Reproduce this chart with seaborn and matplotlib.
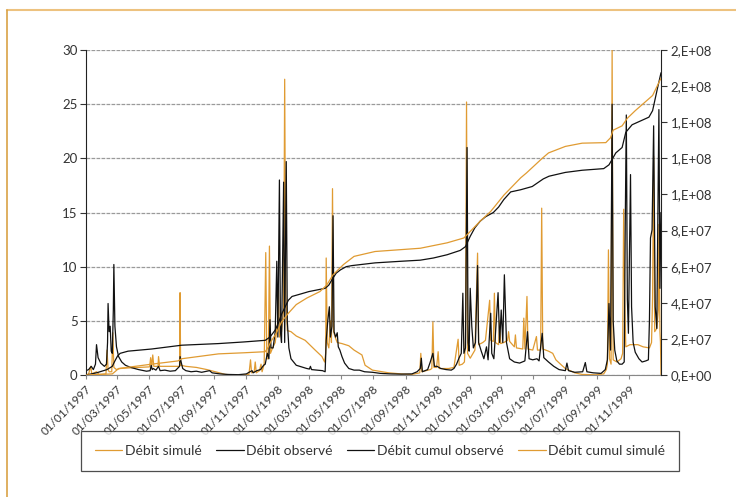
import numpy as np
import pandas as pd
import seaborn as sns
import matplotlib.pyplot as plt
import matplotlib.dates as mdates
from matplotlib.lines import Line2D
from matplotlib.ticker import FuncFormatter

sns.set_style('white')
plt.rcParams['font.family'] = ['Lato', 'DejaVu Sans']

start = pd.Timestamp('1997-01-01')

# débit observé (m3/s), jours comptés depuis le 01/01/1997
obs_day = [0, 5, 10, 14, 18, 20, 23, 28, 35, 39,
           41, 42, 44, 46, 48, 50, 52, 53, 55, 58,
           62, 68, 75, 85, 100, 115, 122, 124, 126, 128,
           133, 138, 141, 150, 160, 170, 178, 179, 181, 184,
           190, 200, 210, 220, 235, 240, 255, 270, 290, 305,
           312, 316, 318, 325, 332, 338, 341, 345, 348, 350,
           352, 356, 360, 363, 365, 368, 370, 372, 376, 378,
           381, 383, 386, 390, 395, 400, 410, 420, 425, 427,
           429, 440, 450, 455, 457, 460, 463, 465, 468, 470,
           472, 475, 478, 480, 483, 487, 492, 500, 510, 520,
           530, 545, 560, 580, 600, 620, 630, 636, 638, 640,
           645, 650, 655, 660, 663, 668, 675, 685, 695, 700,
           705, 710, 714, 717, 719, 722, 725, 727, 729, 731,
           734, 737, 741, 745, 747, 752, 757, 762, 765, 770,
           772, 776, 784, 787, 790, 793, 796, 800, 806, 815,
           825, 835, 840, 843, 850, 858, 862, 868, 871, 880,
           890, 900, 912, 915, 918, 930, 945, 950, 953, 965,
           980, 988, 992, 995, 998, 1001, 1003, 1006, 1010, 1015,
           1020, 1024, 1026, 1028, 1030, 1032, 1036, 1038, 1041, 1045,
           1052, 1058, 1065, 1070, 1072, 1074, 1077, 1080, 1083, 1086,
           1090, 1092, 1094]
obs_q = [0.4, 0.5, 0.8, 0.5, 1.0, 2.8, 1.6, 1.1, 0.8, 1.0,
         3.0, 6.6, 4.0, 4.5, 2.2, 2.0, 6.0, 10.2, 4.5, 2.6,
         1.7, 1.2, 0.9, 0.7, 0.5, 0.35, 0.4, 0.9, 0.5, 0.6,
         0.45, 0.8, 0.4, 0.45, 0.35, 0.4, 0.8, 1.7, 1.2, 0.6,
         0.4, 0.3, 0.35, 0.25, 0.4, 0.2, 0.1, 0.05, 0.03, 0.1,
         0.3, 0.4, 0.2, 0.4, 0.5, 0.9, 1.0, 2.0, 1.5, 5.1,
         2.5, 2.5, 4.0, 10.5, 3.5, 18.0, 4.0, 3.0, 17.8, 3.0,
         19.7, 5.0, 2.5, 1.5, 1.2, 0.9, 0.75, 0.6, 0.55, 0.8,
         0.5, 0.45, 0.4, 0.3, 3.2, 5.0, 6.3, 3.5, 4.5, 14.7,
         4.0, 3.5, 3.9, 2.6, 2.3, 1.7, 1.1, 0.6, 0.45, 0.45,
         0.3, 0.25, 0.15, 0.1, 0.08, 0.1, 0.3, 0.6, 1.55, 0.3,
         0.4, 0.5, 1.2, 2.0, 0.8, 0.8, 0.6, 0.5, 0.45, 0.6,
         1.0, 1.6, 2.0, 7.55, 2.0, 2.5, 21.0, 3.0, 2.2, 8.0,
         4.5, 2.5, 3.0, 10.1, 3.0, 2.2, 1.5, 2.6, 1.4, 5.7,
         2.0, 1.5, 7.6, 3.0, 6.0, 3.0, 9.25, 3.0, 1.5, 1.2,
         1.1, 1.3, 4.0, 1.5, 1.4, 1.5, 1.3, 3.85, 1.6, 1.2,
         0.8, 0.5, 0.4, 1.1, 0.4, 0.25, 0.3, 1.15, 0.3, 0.2,
         0.15, 0.5, 1.4, 6.6, 2.3, 25.0, 5.0, 2.3, 1.3, 1.0,
         1.0, 1.2, 14.0, 24.0, 7.0, 3.85, 18.5, 6.3, 3.0, 2.1,
         1.5, 1.2, 1.3, 1.4, 5.0, 12.65, 13.4, 23.0, 6.3, 4.3,
         24.5, 8.0, 15.0]

# débit simulé (m3/s)
sim_day = [0, 5, 9, 11, 20, 25, 38, 40, 42, 44,
           49, 51, 53, 58, 65, 80, 100, 121, 123, 125,
           127, 129, 137, 138, 140, 150, 165, 178, 179, 180,
           190, 210, 230, 250, 265, 290, 310, 313, 315, 320,
           322, 324, 330, 333, 335, 339, 342, 344, 347, 349,
           351, 355, 360, 365, 366, 368, 372, 376, 378, 380,
           383, 390, 400, 417, 436, 449, 454, 456, 457, 459,
           462, 465, 467, 469, 471, 474, 478, 487, 500, 505,
           510, 525, 531, 545, 576, 600, 620, 635, 637, 639,
           655, 658, 660, 662, 667, 670, 672, 690, 700, 708,
           710, 716, 720, 722, 724, 726, 731, 740, 745, 747,
           755, 760, 768, 770, 775, 777, 779, 785, 787, 789,
           795, 802, 804, 806, 815, 817, 819, 831, 833, 835,
           839, 841, 850, 857, 859, 865, 867, 869, 880, 888,
           894, 905, 912, 930, 944, 970, 985, 990, 992, 994,
           996, 999, 1001, 1003, 1010, 1018, 1021, 1023, 1025, 1027,
           1035, 1050, 1060, 1072, 1076, 1078, 1080, 1082, 1086, 1089,
           1090, 1092, 1093, 1094]
sim_q = [0.0, 0.1, 0.8, 0.1, 0.3, 0.05, 0.1, 2.3, 0.5, 0.3,
         0.3, 3.9, 0.7, 0.5, 0.6, 0.65, 0.7, 0.75, 1.6, 0.8,
         1.85, 0.8, 0.8, 1.7, 0.8, 0.8, 0.8, 0.8, 7.6, 0.9,
         0.8, 0.7, 0.5, 0.25, 0.05, 0.0, 0.05, 1.4, 0.2, 0.3,
         1.2, 0.2, 0.4, 1.0, 0.3, 1.0, 11.3, 1.5, 1.5, 11.9,
         2.0, 2.5, 3.0, 5.0, 8.2, 3.5, 4.0, 6.0, 27.3, 7.5,
         4.1, 4.0, 3.6, 3.2, 2.3, 1.7, 1.2, 2.0, 10.8, 3.0,
         2.5, 5.0, 3.0, 17.2, 4.0, 3.5, 3.0, 2.9, 2.7, 2.5,
         2.3, 1.85, 0.9, 0.45, 0.2, 0.1, 0.05, 0.2, 2.0, 0.3,
         0.5, 0.6, 4.9, 0.7, 0.7, 2.15, 0.6, 0.6, 0.7, 3.3,
         0.9, 1.0, 1.2, 3.4, 25.2, 2.0, 1.55, 2.3, 11.25, 2.8,
         3.0, 3.2, 6.9, 3.2, 3.1, 7.55, 3.0, 2.8, 5.0, 2.9,
         3.0, 3.2, 4.0, 3.1, 2.6, 3.7, 2.5, 2.4, 5.25, 2.4,
         7.25, 2.4, 2.3, 3.55, 2.3, 2.3, 15.4, 2.4, 2.2, 2.0,
         1.4, 0.9, 0.6, 0.2, 0.05, 0.02, 0.1, 0.5, 1.0, 11.55,
         1.5, 1.0, 30.0, 1.4, 1.2, 1.5, 2.0, 15.3, 7.0, 2.6,
         2.8, 2.8, 2.6, 2.5, 3.0, 7.25, 20.2, 4.0, 4.3, 6.0,
         13.9, 4.0, 3.0, 0.0]

# volumes cumulés (hm3 = 1e6 m3)
cobs_day = [0, 20, 40, 50, 55, 60, 65, 80, 125, 182,
            252, 300, 341, 350, 360, 366, 372, 379, 385, 392,
            410, 424, 455, 462, 468, 476, 484, 495, 506, 550,
            600, 636, 661, 687, 712, 722, 731, 740, 750, 760,
            775, 785, 795, 808, 827, 849, 870, 881, 912, 944,
            985, 995, 1001, 1008, 1020, 1027, 1039, 1071, 1078, 1087,
            1094]
cobs_hm3 = [0, 1.2, 3.0, 4.8, 7.8, 10.5, 12.0, 13.2, 14.4, 16.5,
            17.4, 18.3, 19.2, 21.0, 24.9, 28.8, 33.6, 37.8, 41.4, 43.5,
            45.0, 46.2, 48.0, 49.8, 52.8, 56.4, 58.2, 60.0, 60.6, 62.1,
            63.0, 63.6, 64.8, 66.6, 69.0, 71.1, 76.8, 81.6, 85.2, 87.6,
            90.0, 93.0, 97.2, 101.4, 102.6, 104.4, 108.6, 110.1, 112.2, 113.4,
            114.3, 116.4, 119.4, 123.0, 126.0, 134.4, 138.6, 142.8, 146.4, 158.4,
            167.4]
csim_day = [0, 50, 55, 62, 125, 175, 182, 252, 300, 341,
            347, 352, 362, 372, 385, 400, 420, 445, 458, 470,
            490, 510, 550, 636, 687, 719, 731, 750, 770, 795,
            827, 838, 868, 880, 912, 944, 989, 998, 1003, 1020,
            1030, 1045, 1078, 1085, 1094]
csim_hm3 = [0, 0.6, 1.8, 3.6, 6.0, 7.8, 9.0, 11.7, 12.3, 12.9,
            15.6, 18.6, 23.1, 29.4, 34.2, 39.0, 42.6, 46.2, 49.8, 55.5,
            61.2, 65.7, 68.4, 70.2, 73.2, 75.9, 79.5, 85.2, 90.6, 99.6,
            109.2, 111.9, 120.0, 123.0, 126.6, 128.4, 128.7, 131.4, 135.6, 138.0,
            142.2, 146.4, 154.8, 159.0, 164.4]

orange = '#E09B32'
black = '#111111'


def serie(days, vals, scale=1.0):
    return pd.DataFrame({'date': start + pd.to_timedelta(days, unit='D'),
                         'v': np.array(vals) * scale})


fig = plt.figure(figsize=(7.36, 4.97), dpi=100)
ax = fig.add_axes([86 / 736, 1 - 375 / 497, 575 / 736, 325 / 497])
ax2 = ax.twinx()

sns.lineplot(data=serie(sim_day, sim_q), x='date', y='v', ax=ax,
             color=orange, lw=0.9, label='Débit simulé')
sns.lineplot(data=serie(obs_day, obs_q), x='date', y='v', ax=ax,
             color=black, lw=0.9, label='Débit observé')
sns.lineplot(data=serie(cobs_day, cobs_hm3, 1e6), x='date', y='v', ax=ax2,
             color=black, lw=0.9, label='Débit cumul observé')
sns.lineplot(data=serie(csim_day, csim_hm3, 1e6), x='date', y='v', ax=ax2,
             color=orange, lw=0.9, label='Débit cumul simulé')

ax.set_ylim(0, 30)
ax.set_yticks(range(0, 31, 5))
ax2.set_ylim(0, 1.8e8)
ax2.set_yticks(np.arange(0, 1.8e8 + 1, 2e7))
ax2.yaxis.set_major_formatter(FuncFormatter(lambda v, p: '{:.0E}'.format(v).replace('E', ',E')))

end = start + pd.Timedelta(days=1094)
ax.set_xlim(start, end)
ax.set_xticks(pd.date_range('1997-01-01', '1999-11-01', freq='2MS'))
ax.xaxis.set_major_formatter(mdates.DateFormatter('%d/%m/%Y'))
for lab in ax.get_xticklabels():
    lab.set_rotation(45)
    lab.set_ha('right')
    lab.set_rotation_mode('anchor')

ax.set_xlabel('')
ax.set_ylabel('')
ax2.set_ylabel('')
ax.grid(axis='y', color='#9a9a9a', linestyle=(0, (3, 1)), lw=0.9)
ax.set_axisbelow(True)

for a in (ax, ax2):
    a.spines['top'].set_visible(False)
ax.spines['right'].set_visible(False)
ax.spines['left'].set_color('#222222')
ax.spines['bottom'].set_color('#888888')
ax2.spines['right'].set_color('#222222')
ax2.spines['left'].set_visible(False)
ax2.spines['bottom'].set_visible(False)

ax.tick_params(axis='y', left=True, length=4, width=0.8, color='#333333',
               labelsize=9.5, labelcolor='#333333', pad=2)
ax.tick_params(axis='x', bottom=True, length=3, width=0.8, color='#888888',
               labelsize=8.5, labelcolor='#333333', pad=3)
ax2.tick_params(axis='y', right=True, length=4, width=0.8, color='#333333',
                labelsize=9.5, labelcolor='#333333', pad=3)

handles = ax.get_legend().legend_handles + ax2.get_legend().legend_handles
labels = ['Débit simulé', 'Débit observé', 'Débit cumul observé', 'Débit cumul simulé']
ax.get_legend().remove()
ax2.get_legend().remove()
leg = fig.legend(handles, labels, loc='center', bbox_to_anchor=(380 / 736, 1 - 451 / 497),
                 ncol=4, frameon=True, fancybox=False, edgecolor='#222222',
                 fontsize=10, handlelength=2.0, columnspacing=1.0, handletextpad=0.2,
                 borderpad=1.0, labelcolor='#333333')
leg.get_frame().set_linewidth(0.9)

# cadre de la figure
fig.add_artist(Line2D([7 / 736, 1], [1 - 10 / 497, 1 - 10 / 497], color='#EDC27F', lw=1.5))
fig.add_artist(Line2D([7 / 736, 7 / 736], [0, 1 - 10 / 497], color='#D9A245', lw=1.2))

fig.savefig('out.png', dpi=100)
